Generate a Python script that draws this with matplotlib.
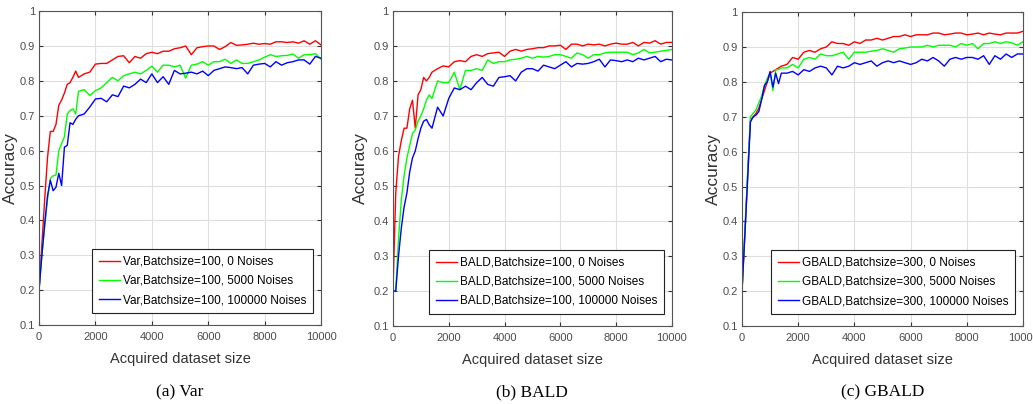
import numpy as np
import matplotlib
matplotlib.use("Agg")
import matplotlib.pyplot as plt
from matplotlib.ticker import FormatStrFormatter

# shared x positions (acquired dataset size)
x_size = list(range(0, 1500, 100)) + list(range(1600, 10001, 200))

# (a) Var
var_0 = [0.2, 0.33, 0.46, 0.58, 0.655, 0.655, 0.675, 0.73, 0.745, 0.765, 0.79, 0.795, 0.81, 0.828, 0.81,
         0.82, 0.825, 0.848, 0.85, 0.85, 0.86, 0.87, 0.872, 0.852, 0.87,
         0.865, 0.878, 0.882, 0.878, 0.885, 0.885, 0.892, 0.895, 0.9, 0.875,
         0.895, 0.898, 0.9, 0.9, 0.89, 0.898, 0.91, 0.902, 0.903, 0.905,
         0.908, 0.905, 0.907, 0.905, 0.912, 0.912, 0.91, 0.912, 0.908, 0.915,
         0.905, 0.915, 0.903]
var_5000 = [0.2, 0.3, 0.38, 0.46, 0.52, 0.528, 0.53, 0.6, 0.62, 0.64, 0.705, 0.715, 0.72, 0.705, 0.77,
            0.775, 0.758, 0.772, 0.78, 0.795, 0.81, 0.80, 0.815, 0.82, 0.825,
            0.82, 0.83, 0.842, 0.825, 0.845, 0.845, 0.84, 0.845, 0.808, 0.845,
            0.848, 0.855, 0.845, 0.855, 0.855, 0.862, 0.85, 0.86, 0.85, 0.85,
            0.855, 0.86, 0.868, 0.875, 0.87, 0.872, 0.873, 0.877, 0.865, 0.875,
            0.875, 0.878, 0.862]
var_100000 = [0.2, 0.3, 0.39, 0.47, 0.515, 0.485, 0.495, 0.535, 0.5, 0.61, 0.615, 0.68, 0.675, 0.69, 0.7,
              0.705, 0.725, 0.748, 0.75, 0.74, 0.76, 0.755, 0.785, 0.78, 0.79,
              0.805, 0.795, 0.82, 0.795, 0.812, 0.79, 0.83, 0.82, 0.822, 0.825,
              0.82, 0.828, 0.815, 0.83, 0.835, 0.84, 0.838, 0.835, 0.838, 0.82,
              0.845, 0.848, 0.85, 0.84, 0.855, 0.845, 0.852, 0.855, 0.86, 0.86,
              0.848, 0.87, 0.865]

# (b) BALD
bald_0 = [0.2, 0.48, 0.585, 0.63, 0.665, 0.665, 0.72, 0.745, 0.665, 0.76, 0.775, 0.81, 0.8, 0.81, 0.825,
          0.835, 0.843, 0.84, 0.855, 0.858, 0.855, 0.87, 0.875, 0.87, 0.878,
          0.88, 0.882, 0.87, 0.885, 0.89, 0.885, 0.89, 0.892, 0.895, 0.895,
          0.9, 0.9, 0.902, 0.89, 0.905, 0.905, 0.9, 0.905, 0.903, 0.905,
          0.9, 0.905, 0.908, 0.905, 0.905, 0.91, 0.9, 0.91, 0.908, 0.915,
          0.905, 0.91, 0.91]
bald_5000 = [0.2, 0.2, 0.35, 0.46, 0.53, 0.58, 0.615, 0.65, 0.66, 0.685, 0.7, 0.72, 0.745, 0.76, 0.75,
             0.8, 0.795, 0.795, 0.825, 0.775, 0.83, 0.83, 0.835, 0.83, 0.86,
             0.85, 0.855, 0.855, 0.86, 0.862, 0.865, 0.87, 0.865, 0.87, 0.868,
             0.87, 0.875, 0.875, 0.87, 0.865, 0.88, 0.875, 0.865, 0.875, 0.875,
             0.88, 0.882, 0.882, 0.882, 0.882, 0.875, 0.88, 0.89, 0.88, 0.882,
             0.885, 0.887, 0.89]
bald_100000 = [0.2, 0.2, 0.3, 0.38, 0.44, 0.48, 0.54, 0.58, 0.6, 0.635, 0.665, 0.685, 0.69, 0.675, 0.665,
               0.725, 0.70, 0.75, 0.78, 0.775, 0.785, 0.775, 0.795, 0.81, 0.79,
               0.785, 0.81, 0.812, 0.815, 0.8, 0.825, 0.835, 0.835, 0.828, 0.845,
               0.84, 0.835, 0.845, 0.855, 0.84, 0.85, 0.848, 0.85, 0.855, 0.862,
               0.84, 0.86, 0.858, 0.855, 0.86, 0.855, 0.865, 0.86, 0.865, 0.87,
               0.855, 0.862, 0.86]

# (c) GBALD
gbald_0 = [0.2, 0.36, 0.53, 0.69, 0.7, 0.71, 0.725, 0.75, 0.775, 0.8, 0.825, 0.83, 0.835, 0.84, 0.845,
           0.85, 0.87, 0.865, 0.885, 0.89, 0.885, 0.895, 0.9, 0.915, 0.91,
           0.91, 0.905, 0.915, 0.91, 0.92, 0.92, 0.925, 0.92, 0.925, 0.93,
           0.93, 0.935, 0.93, 0.935, 0.935, 0.935, 0.94, 0.94, 0.935, 0.937,
           0.94, 0.94, 0.935, 0.937, 0.94, 0.935, 0.94, 0.937, 0.935, 0.94,
           0.94, 0.94, 0.945]
gbald_5000 = [0.2, 0.37, 0.54, 0.7, 0.71, 0.72, 0.74, 0.76, 0.79, 0.81, 0.825, 0.775, 0.835, 0.835, 0.84,
              0.84, 0.85, 0.84, 0.865, 0.87, 0.865, 0.88, 0.875, 0.875, 0.88,
              0.885, 0.865, 0.885, 0.885, 0.885, 0.888, 0.89, 0.895, 0.89, 0.885,
              0.895, 0.897, 0.9, 0.9, 0.9, 0.905, 0.9, 0.905, 0.905, 0.905,
              0.9, 0.91, 0.905, 0.91, 0.895, 0.91, 0.91, 0.915, 0.91, 0.915,
              0.912, 0.905, 0.915]
gbald_100000 = [0.2, 0.36, 0.52, 0.685, 0.7, 0.705, 0.715, 0.75, 0.79, 0.8, 0.83, 0.785, 0.825, 0.795, 0.825,
                0.825, 0.83, 0.82, 0.835, 0.83, 0.84, 0.845, 0.84, 0.82, 0.845,
                0.84, 0.845, 0.855, 0.85, 0.855, 0.86, 0.845, 0.855, 0.86, 0.855,
                0.86, 0.855, 0.85, 0.855, 0.865, 0.86, 0.87, 0.86, 0.845, 0.865,
                0.87, 0.865, 0.87, 0.87, 0.865, 0.875, 0.85, 0.875, 0.865, 0.88,
                0.87, 0.88, 0.88]

noise_labels = ["0 Noises", "5000 Noises", "100000 Noises"]
line_colors = ["#ff0000", "#00ff00", "#0000ff"]

panels = [
    ("Var,Batchsize=100, ", [var_0, var_5000, var_100000], "(a) Var"),
    ("BALD,Batchsize=100, ", [bald_0, bald_5000, bald_100000], "(b) BALD"),
    ("GBALD,Batchsize=300, ", [gbald_0, gbald_5000, gbald_100000], "(c) GBALD"),
]

# axes boxes in figure fractions [left, bottom, width, height]
boxes = [
    [0.0378, 0.1955, 0.2730, 0.7770],
    [0.3804, 0.1930, 0.2700, 0.7800],
    [0.7183, 0.1930, 0.2720, 0.7770],
]
ylabel_x = [-0.102, -0.115, -0.102]

plt.rcParams['font.family'] = 'Liberation Sans'

fig = plt.figure(figsize=(10.33, 4.04), dpi=100)

for (prefix, series, caption), box, lx in zip(panels, boxes, ylabel_x):
    ax = fig.add_axes(box)
    for ys, col, nl in zip(series, line_colors, noise_labels):
        ax.plot(x_size, ys, color=col, linewidth=1.0, label=prefix + nl)

    ax.set_xlim(0, 10000)
    ax.set_ylim(0.1, 1.0)
    ax.set_xticks(np.arange(0, 10001, 2000))
    ax.set_yticks(np.arange(0.1, 1.01, 0.1))
    ax.yaxis.set_major_formatter(FormatStrFormatter('%g'))

    # matlab-ish look
    ax.grid(True, color='#dedede', linewidth=0.8)
    ax.set_axisbelow(True)
    for sp in ax.spines.values():
        sp.set_color('#555555')
        sp.set_linewidth(0.8)
    ax.tick_params(direction='in', length=3, width=0.8, color='#333333',
                   labelcolor='#4d4d4d', labelsize=8, top=True, right=True)
    ax.tick_params(axis='x', pad=5)
    ax.tick_params(axis='y', pad=3)

    ax.set_xlabel('Acquired dataset size', fontsize=10.5, color='#333333', labelpad=7)
    ax.set_ylabel('Accuracy', fontsize=12.5, color='#333333')
    ax.yaxis.label.set_va('center')
    ax.yaxis.set_label_coords(lx, 0.5)

    leg = ax.legend(loc='lower right', bbox_to_anchor=(0.972, 0.038), fontsize=8.5,
                    frameon=True, fancybox=False, framealpha=1, edgecolor='#222222',
                    handlelength=1.8, handletextpad=0.2, labelspacing=0.6,
                    borderpad=0.6, borderaxespad=0)
    leg.get_frame().set_linewidth(0.8)

    fig.text(box[0] + box[2] / 2, 0.018, caption, ha='center', va='baseline',
             fontsize=12.5, family='Liberation Serif', color='black')

fig.savefig('out.png', dpi=100)
